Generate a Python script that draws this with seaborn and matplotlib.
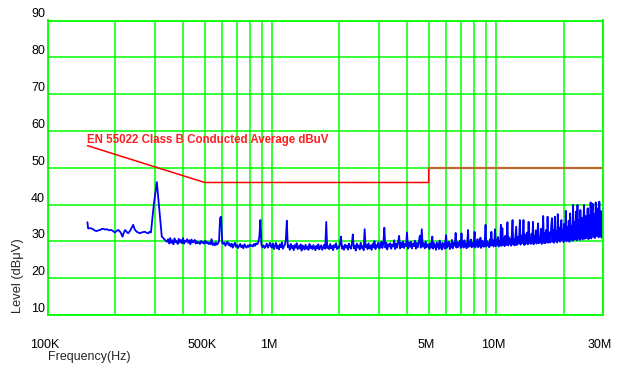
import numpy as np
import pandas as pd
import matplotlib
matplotlib.use("Agg")
import matplotlib.pyplot as plt
import matplotlib.transforms as mtransforms
from matplotlib.ticker import FixedLocator, NullFormatter
import seaborn as sns

# ---------------- data ----------------
# low band, read point by point (kHz / dBuV)
seg_a_freq_khz = [150, 151, 155, 159, 162, 165, 168, 171, 174, 177, 180, 183, 188, 192, 196,
                  199, 203, 206, 210, 213, 215, 218, 221, 225, 228, 233, 240, 244, 249,
                  253, 257, 264, 271, 276, 280, 284, 288, 297, 306, 313, 322, 328, 333, 339]
seg_a_level = [35.2, 33.5, 33.6, 33.3, 32.9, 32.8, 33.0, 33.1, 33.4, 33.4, 33.2, 33.3, 33.0, 33.1, 32.7,
               32.4, 32.9, 33.1, 32.6, 31.9, 31.3, 32.4, 33.1, 32.5, 32.2, 33.0, 34.5, 33.2, 32.6,
               32.4, 32.2, 32.5, 32.6, 32.3, 32.2, 32.6, 32.4, 40.3, 46.1, 39.4, 31.3, 30.8, 30.4, 29.9]

# 340 kHz - 1 MHz (log spaced sweep)
seg_b_level = [
    29.9, 30.6, 29.4, 30.9, 29.6, 30.3, 29.2, 30.8, 29.8, 30.1, 29.3, 30.7, 29.7, 30.4, 29.5, 30.9, 29.4, 30.2, 29.9, 30.6,
    29.6, 30.3, 29.2, 30.5, 29.7, 29.9, 30.4, 29.4, 30.0, 29.5, 29.8, 29.3, 30.1, 29.6, 29.9, 29.4, 30.2, 29.5, 29.8, 29.3,
    29.7, 29.2, 30.6, 29.0, 29.5, 28.9, 29.8, 29.1, 29.4, 30.1, 36.4, 36.7, 29.6, 29.3, 29.7, 28.8, 29.5, 29.9, 29.0, 29.4,
    28.6, 29.4, 28.3, 29.1, 29.6, 28.5, 29.0, 28.2, 28.8, 29.3, 28.4, 28.9, 28.1, 29.2, 28.6, 28.3, 28.9, 28.5, 29.1, 28.7,
    29.0, 28.6, 29.3, 28.8, 29.5, 29.2, 29.7, 31.2, 35.8, 29.0, 28.4, 28.9, 28.2, 28.7, 29.4, 28.3, 28.8, 29.6, 28.5, 28.9,
]

# 1 MHz - 5 MHz
seg_c_level = [
    28.3, 29.4, 27.9, 28.8, 29.6, 28.1, 28.9, 27.8, 29.2, 28.4, 29.7, 28.0, 28.6, 29.1, 30.5, 35.6, 28.4, 28.9, 27.7, 29.3,
    28.2, 28.8, 27.6, 29.0, 28.3, 29.5, 27.9, 28.7, 28.1, 29.2, 27.5, 28.9, 28.4, 27.8, 29.1, 28.0, 28.6, 27.7, 29.3, 28.2,
    28.7, 27.9, 29.0, 28.3, 27.6, 28.8, 28.1, 29.2, 27.8, 28.5, 28.9, 27.7, 28.4, 29.1, 28.0, 35.3, 28.2, 28.7, 27.9, 29.3,
    28.1, 28.8, 27.6, 29.0, 28.4, 29.5, 27.9, 28.6, 28.2, 29.3, 31.3, 28.0, 28.7, 27.7, 29.1, 28.3, 28.9, 27.8, 29.4, 28.5,
    28.0, 29.2, 31.9, 28.1, 28.8, 27.5, 29.4, 28.3, 28.9, 27.8, 29.6, 28.2, 28.7, 27.6, 33.3, 28.4, 29.1, 27.9, 29.5, 28.1,
    28.9, 27.7, 29.3, 28.4, 30.1, 27.9, 29.0, 28.5, 29.7, 28.0, 28.8, 29.9, 28.2, 29.4, 33.7, 28.3, 29.6, 27.8, 29.2, 28.6,
    29.5, 28.0, 29.1, 28.6, 30.3, 27.9, 29.4, 28.3, 29.8, 31.5, 28.1, 29.6, 28.4, 30.0, 28.2, 29.3, 28.7, 32.4, 28.0, 29.7,
    28.5, 29.9, 28.1, 29.4, 28.7, 30.2, 28.0, 29.6, 28.4, 29.8, 31.5, 28.3, 33.3, 28.6, 29.5, 28.1, 30.0, 28.4, 29.2, 28.7,
]

# 5 MHz - 30 MHz
seg_d_level = [
    28.9, 27.9, 29.5, 28.3, 29.2, 31.3, 28.0, 29.6, 28.4, 29.0, 27.7, 29.7, 28.5, 29.3, 27.9, 30.2, 28.3, 29.1, 27.8, 29.6,
    28.6, 29.4, 28.0, 30.1, 31.7, 28.2, 29.5, 28.7, 29.9, 27.9, 29.3, 28.5, 30.4, 28.1, 29.6, 28.8, 29.2, 32.3, 28.3, 29.8,
    28.4, 29.7, 28.9, 30.2, 28.2, 32.2, 28.6, 29.9, 28.3, 30.3, 28.8, 29.4, 28.1, 30.0, 33.1, 28.5, 29.8, 28.7, 30.5, 28.4,
    29.6, 28.6, 30.1, 32.6, 28.3, 29.9, 28.9, 30.6, 28.4, 29.7, 28.8, 31.0, 28.2, 30.2, 28.7, 29.8, 28.5, 30.4, 34.5, 28.6,
    30.1, 28.9, 29.7, 28.4, 30.6, 28.8, 32.6, 29.0, 30.3, 28.6, 29.9, 33.3, 28.7, 30.5, 29.1, 31.2, 28.6, 30.2, 28.9, 34.5,
    28.8, 33.6, 29.2, 30.8, 28.7, 31.5, 29.0, 30.4, 35.2, 28.9, 31.1, 29.3, 30.6, 28.8, 32.0, 35.8, 29.1, 30.7, 28.9, 31.4,
    34.0, 29.0, 31.2, 29.4, 30.5, 35.8, 29.1, 31.6, 29.5, 30.8, 35.8, 29.0, 31.9, 29.3, 30.6, 32.4, 29.2, 35.3, 29.6, 31.0,
    29.3, 32.1, 29.5, 35.3, 29.2, 31.4, 29.7, 33.0, 29.4, 31.8, 34.9, 29.5, 31.2, 29.8, 33.4, 29.3, 31.6, 36.9, 29.6, 32.2,
    29.5, 33.1, 29.8, 36.7, 29.6, 32.5, 30.0, 29.7, 34.2, 36.3, 29.9, 33.0, 29.6, 36.7, 30.1, 32.8, 29.7, 37.4, 30.2, 33.6,
    29.9, 34.5, 35.8, 30.3, 33.2, 29.8, 34.8, 30.4, 38.3, 30.0, 33.9, 30.5, 35.6, 29.9, 37.6, 30.6, 34.1, 30.2, 39.9, 30.4,
    35.2, 30.6, 38.1, 30.3, 39.9, 30.8, 35.7, 30.4, 38.5, 31.0, 36.4, 30.5, 34.8, 39.9, 30.7, 36.9, 30.9, 35.3, 39.0, 30.6,
    37.2, 31.0, 40.6, 30.8, 38.0, 40.2, 31.2, 37.5, 30.9, 40.6, 31.4, 36.8, 39.0, 31.1, 40.8, 31.6, 38.2, 31.0, 36.5, 39.2,
]

# EN 55022 class B average limit
limit_freq = [150e3, 500e3, 5e6, 5e6]
limit_level = [56, 46, 46, 50]
limit2_freq = [5e6, 30e6]
limit2_level = [50, 50]

xtick_vals = [1e5, 5e5, 1e6, 5e6, 1e7, 3e7]
xtick_labels = ["100K", "500K", "1M", "5M", "10M", "30M"]
ytick_vals = [10, 20, 30, 40, 50, 60, 70, 80, 90]

# ---------------- build the sweep ----------------
freq = np.concatenate([
    np.array(seg_a_freq_khz) * 1e3,
    np.geomspace(340e3, 1e6, len(seg_b_level)),
    np.geomspace(1e6, 5e6, len(seg_c_level)),
    np.geomspace(5e6, 30e6, len(seg_d_level)),
])
level = np.concatenate([seg_a_level, seg_b_level, seg_c_level, seg_d_level])
df = pd.DataFrame({"freq": freq, "level": level})

# ---------------- plot ----------------
sns.set_style("white")
plt.rcParams["font.family"] = ["Liberation Sans", "DejaVu Sans"]

fig = plt.figure(figsize=(6.23, 3.65), dpi=100)
ax = fig.add_axes([48 / 623, 50 / 365, 555 / 623, 294.5 / 365])

GREEN = "#00ff00"

ax.set_xscale("log")
ax.set_xlim(1e5, 3e7)
ax.set_ylim(10, 90)

minor_x = [m * 10 ** e for e in range(5, 8) for m in range(1, 10) if m * 10 ** e <= 3e7]
ax.xaxis.set_major_locator(FixedLocator(xtick_vals))
ax.xaxis.set_minor_locator(FixedLocator(minor_x))
ax.xaxis.set_minor_formatter(NullFormatter())
ax.set_xticklabels(xtick_labels)
ax.set_yticks(ytick_vals)
ax.set_yticklabels([str(v) for v in ytick_vals])

ax.grid(True, which="both", axis="x", color=GREEN, lw=1.1)
ax.grid(True, which="major", axis="y", color=GREEN, lw=1.1)
ax.set_axisbelow(True)
for sp in ax.spines.values():
    sp.set_color(GREEN)
    sp.set_linewidth(1.3)

ax.tick_params(axis="x", which="major", length=4, width=1, color=GREEN,
               labelsize=9, pad=13, labelcolor="black")
ax.tick_params(axis="x", which="minor", length=0)
ax.tick_params(axis="y", which="major", length=4.3, width=1, color=GREEN,
               labelsize=9, pad=-2.2, labelcolor="black")
plt.setp(ax.get_yticklabels(), va="bottom")
shift = mtransforms.ScaledTranslation(-3 / 100, 0, fig.dpi_scale_trans)
for lbl in ax.get_xticklabels():
    lbl.set_transform(lbl.get_transform() + shift)

# measured trace
sns.lineplot(data=df, x="freq", y="level", ax=ax, color="#0000ff", lw=1.3,
             estimator=None, sort=False, legend=False)

# limit line
ax.plot(limit_freq, limit_level, color="#ff0000", lw=1.1)
ax.plot(limit2_freq, limit2_level, color="#c06a2a", lw=1.6)
ax.text(150e3, 56.6, "EN 55022 Class B Conducted Average dBuV", color="#ff2020",
        fontsize=8.3, fontweight="bold", ha="left", va="baseline")

ax.set_xlabel("")
ax.set_ylabel("")
fig.text(18 / 623, (365 - 276) / 365, "Level (dB\u03bcV)", rotation=90,
         ha="center", va="center", fontsize=9.3)
fig.text(48 / 623, (365 - 357) / 365, "Frequency(Hz)", ha="left", va="center",
         fontsize=9)

fig.savefig("out.png", dpi=100)
